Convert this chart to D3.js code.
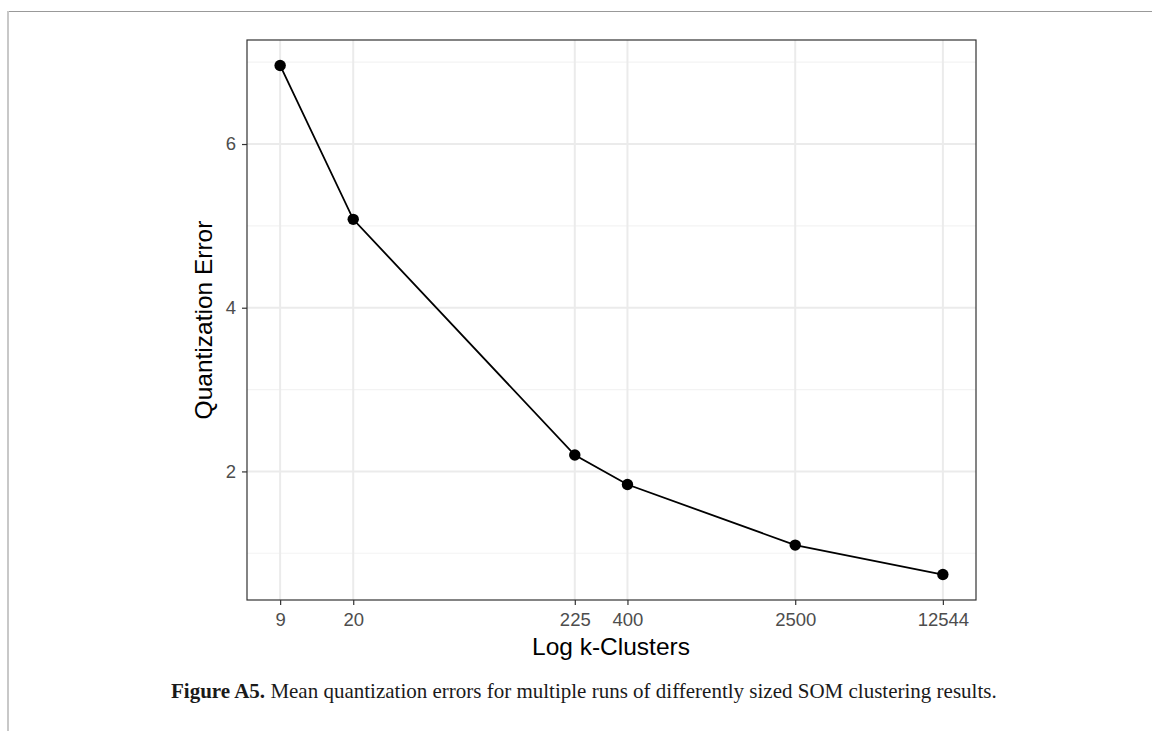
<!DOCTYPE html>
<html><head><meta charset="utf-8">
<script src="https://cdn.jsdelivr.net/npm/d3@7"></script>
<style>body{margin:0;background:#fff}svg{display:block}</style>
</head><body>
<script>
const clusters = [9, 20, 225, 400, 2500, 12544];
const qError = [6.96, 5.08, 2.20, 1.84, 1.10, 0.74];
const xTickLabels = ["9", "20", "225", "400", "2500", "12544"];
const yTicks = [2, 4, 6];
const yMinor = [1, 3, 5, 7];
const xLabel = "Log k-Clusters";
const yLabel = "Quantization Error";
const captionBold = "Figure A5.";
const captionText = " Mean quantization errors for multiple runs of differently sized SOM clustering results.";

const W = 1152, H = 731;
const svg = d3.select("body").append("svg").attr("width", W).attr("height", H);

// figure frame
svg.append("line").attr("x1", 8).attr("x2", W).attr("y1", 11.5).attr("y2", 11.5).attr("stroke", "#999").attr("stroke-width", 1);
svg.append("line").attr("x1", 8).attr("x2", 8).attr("y1", 11).attr("y2", 731).attr("stroke", "#c8c8c8").attr("stroke-width", 2);

const P = {l: 247, r: 976, t: 40, b: 600};
const lx = clusters.map(Math.log10);
const lspan = d3.max(lx) - d3.min(lx);
const x = d3.scaleLog().domain([Math.pow(10, d3.min(lx) - 0.05 * lspan), Math.pow(10, d3.max(lx) + 0.05 * lspan)]).range([P.l, P.r]);
const yspan = d3.max(qError) - d3.min(qError);
const y = d3.scaleLinear().domain([d3.min(qError) - 0.05 * yspan, d3.max(qError) + 0.05 * yspan]).range([P.b, P.t]);

const g = svg.append("g");
// minor grid
g.selectAll(".ymin").data(yMinor).join("line")
  .attr("x1", P.l).attr("x2", P.r).attr("y1", d => y(d)).attr("y2", d => y(d))
  .attr("stroke", "#f3f3f3").attr("stroke-width", 1.2);
// major grid
g.selectAll(".ymaj").data(yTicks).join("line")
  .attr("x1", P.l).attr("x2", P.r).attr("y1", d => y(d)).attr("y2", d => y(d))
  .attr("stroke", "#ebebeb").attr("stroke-width", 2);
g.selectAll(".xmaj").data(clusters).join("line")
  .attr("x1", d => x(d)).attr("x2", d => x(d)).attr("y1", P.t).attr("y2", P.b)
  .attr("stroke", "#ebebeb").attr("stroke-width", 2);

// line + points
const line = d3.line().x((d, i) => x(clusters[i])).y(d => y(d));
g.append("path").datum(qError).attr("d", line).attr("fill", "none").attr("stroke", "#000").attr("stroke-width", 1.8);
g.selectAll("circle").data(qError).join("circle")
  .attr("cx", (d, i) => x(clusters[i])).attr("cy", d => y(d)).attr("r", 5.7).attr("fill", "#000");

// panel border
svg.append("rect").attr("x", P.l).attr("y", P.t).attr("width", P.r - P.l).attr("height", P.b - P.t)
  .attr("fill", "none").attr("stroke", "#333").attr("stroke-width", 1.2);

// axes
const xAxis = d3.axisBottom(x).tickValues(clusters).tickFormat((d, i) => xTickLabels[i]).tickSize(5).tickPadding(8);
const xa = svg.append("g").attr("transform", `translate(0,${P.b})`).call(xAxis);
const yAxis = d3.axisLeft(y).tickValues(yTicks).tickFormat(d3.format("d")).tickSize(5).tickPadding(6);
const ya = svg.append("g").attr("transform", `translate(${P.l},0)`).call(yAxis);
[xa, ya].forEach(a => {
  a.attr("font-size", null).attr("font-family", null);
  a.select(".domain").remove();
  a.selectAll(".tick line").attr("stroke", "#333").attr("stroke-width", 1.2);
  a.selectAll(".tick text").attr("fill", "#4d4d4d").style("font-family", "Liberation Sans, Arial, sans-serif").style("font-size", "18.5px");
});

svg.append("text").attr("x", 611).attr("y", 655).attr("text-anchor", "middle")
  .style("font-family", "Liberation Sans, Arial, sans-serif").style("font-size", "24.5px").attr("fill", "#000").text(xLabel);
svg.append("text").attr("transform", `translate(212,${(P.t + P.b) / 2}) rotate(-90)`).attr("text-anchor", "middle")
  .style("font-family", "Liberation Sans, Arial, sans-serif").style("font-size", "24.5px").attr("fill", "#000").text(yLabel);

// caption
const cap = svg.append("text").attr("x", 171).attr("y", 698)
  .style("font-family", "Liberation Serif, Times New Roman, serif").style("font-size", "21px").attr("fill", "#1a1a1a");
cap.append("tspan").style("font-weight", "bold").text(captionBold);
cap.append("tspan").text(captionText);
</script>
</body></html>
